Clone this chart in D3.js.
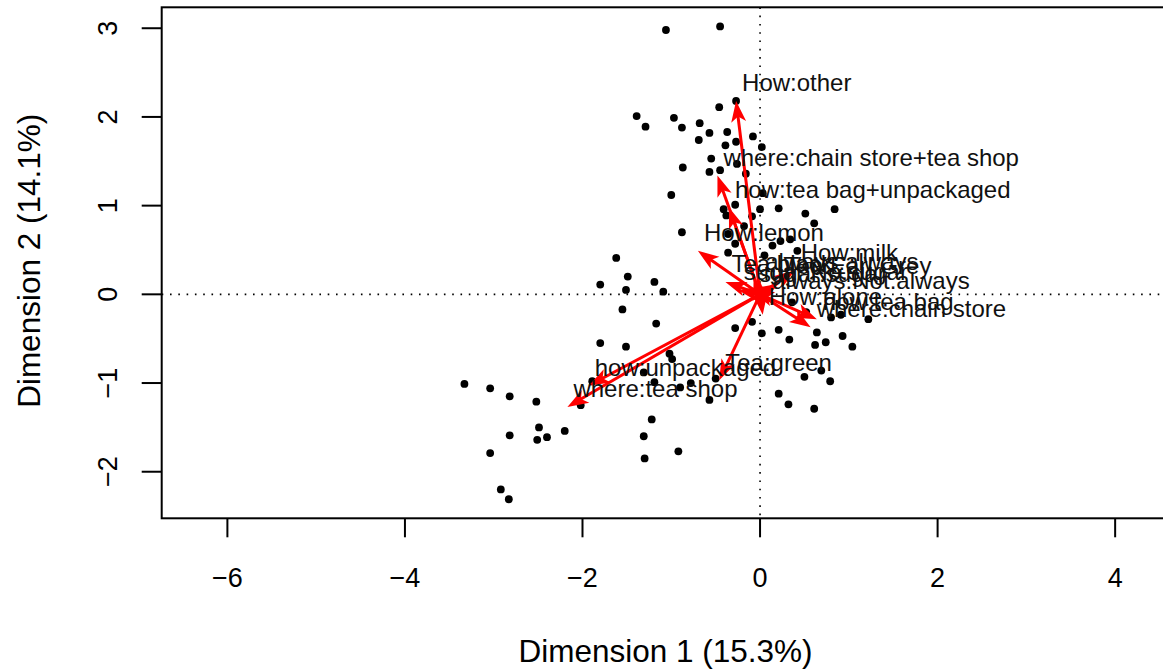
<!DOCTYPE html>
<html>
<head>
<meta charset="utf-8">
<script src="https://cdn.jsdelivr.net/npm/d3@7"></script>
<style>
  body { margin: 0; background: #fff; }
  text { font-family: "Liberation Sans", Arial, sans-serif; }
</style>
</head>
<body>
<script>
// individuals (dim 1, dim 2)
var indX = [-1.06,-0.45,-0.27,-0.46,-1.39,-1.29,-0.97,-0.88,-0.68,-0.57,-0.37,-0.69,-0.39,-0.27,-0.08,0.02,
  -0.55,-0.26,-0.87,-0.57,-0.45,-0.16,-1.00,0.03,-0.41,-0.28,0.00,0.21,0.51,0.84,-0.38,-0.09,-0.18,0.61,
  -0.88,-0.36,-0.28,0.14,0.23,0.34,-0.36,0.05,0.42,
  -1.62,-1.49,-1.80,-1.51,-1.19,-1.09,-1.55,-1.17,-1.80,-1.51,-1.02,-0.99,
  -3.33,-3.04,-2.82,-2.52,-1.89,-2.02,-1.31,-1.19,-0.90,-0.78,-0.50,-0.57,
  -2.49,-2.82,-2.51,-2.40,-2.20,-1.22,-1.31,-1.30,-0.92,-3.04,-2.92,-2.83,
  -0.28,-0.09,0.02,0.21,0.33,0.36,
  0.52,0.80,0.91,1.22,0.64,0.74,0.62,0.93,1.04,0.50,0.69,0.79,0.21,0.32,0.61];
var indY = [2.98,3.02,2.18,2.11,2.01,1.89,1.99,1.88,1.93,1.82,1.83,1.74,1.68,1.72,1.78,1.66,
  1.53,1.47,1.43,1.38,1.40,1.36,1.12,1.14,0.96,1.01,0.96,0.97,0.91,0.96,0.89,0.88,0.77,0.80,
  0.70,0.68,0.57,0.55,0.60,0.62,0.47,0.44,0.49,
  0.41,0.20,0.11,0.05,0.14,0.03,-0.17,-0.33,-0.55,-0.59,-0.67,-0.73,
  -1.01,-1.06,-1.15,-1.21,-0.98,-1.25,-0.88,-0.99,-1.05,-1.00,-0.95,-1.19,
  -1.50,-1.59,-1.64,-1.61,-1.54,-1.41,-1.60,-1.85,-1.77,-1.79,-2.20,-2.31,
  -0.38,-0.31,-0.44,-0.40,-0.51,-0.09,
  -0.20,-0.26,-0.23,-0.28,-0.43,-0.54,-0.57,-0.47,-0.59,-0.93,-0.86,-0.98,-1.12,-1.24,-1.29];

// category arrows
var catLabels = ["How:other","where:chain store+tea shop","how:tea bag+unpackaged","How:lemon",
  "how:unpackaged","where:tea shop","Tea:green","How:milk","Tea:Earl Grey","always:Not.always",
  "How:alone","how:tea bag","where:chain store","Tea:black","sugar:No.sugar","sugar:sugar","always:always"];
var catX = [-0.27,-0.48,-0.35,-0.70,-1.93,-2.17,-0.46,0.39,0.21,0.07,0.03,0.64,0.57,-0.39,-0.25,-0.08,-0.01];
var catY = [2.18,1.34,0.98,0.49,-1.03,-1.27,-0.97,0.27,0.12,-0.05,-0.23,-0.28,-0.37,0.14,0.05,0.03,0.17];

var xTicks = [-6,-4,-2,0,2,4];
var yTicks = [-2,-1,0,1,2,3];
var xTitle = "Dimension 1 (15.3%)";
var yTitle = "Dimension 2 (14.1%)";

var W = 1163, H = 672;
var pLeft = 161.7, pRight = 1169.3, pTop = 7.3, pBottom = 518.3;

var x = d3.scaleLinear().domain([-6.74, 4.61]).range([pLeft, pRight]);
var y = d3.scaleLinear().domain([-2.525, 3.236]).range([pBottom, pTop]);

var svg = d3.select("body").append("svg")
    .attr("width", W)
    .attr("height", H);

// dotted reference lines
svg.append("line")
    .attr("x1", pLeft).attr("x2", pRight)
    .attr("y1", y(0)).attr("y2", y(0))
    .attr("stroke", "#000").attr("stroke-width", 1.6)
    .attr("stroke-dasharray", "1.6,6.7");
svg.append("line")
    .attr("x1", x(0)).attr("x2", x(0))
    .attr("y1", pTop).attr("y2", pBottom)
    .attr("stroke", "#000").attr("stroke-width", 1.6)
    .attr("stroke-dasharray", "1.6,6.7");

// points
svg.selectAll("circle.ind")
    .data(d3.range(indX.length))
    .enter()
    .append("circle")
        .attr("class", "ind")
        .attr("cx", function(i) { return x(indX[i]); })
        .attr("cy", function(i) { return y(indY[i]); })
        .attr("r", 3.9)
        .attr("fill", "#000");

// arrows
var arrows = svg.append("g");
var L = 21, Wd = 7.5;
catLabels.forEach(function(lab, i) {
    var x0 = x(0), y0 = y(0), x1 = x(catX[i]), y1 = y(catY[i]);
    var ang = Math.atan2(y1 - y0, x1 - x0);
    var cos = Math.cos(ang), sin = Math.sin(ang);
    arrows.append("line")
        .attr("x1", x0).attr("y1", y0)
        .attr("x2", x1 - cos * L * 0.7).attr("y2", y1 - sin * L * 0.7)
        .attr("stroke", "#ff0000")
        .attr("stroke-width", 3);
    var pts = [[0, 0], [-L, Wd], [-L * 0.75, 0], [-L, -Wd]].map(function(p) {
        return [x1 + p[0] * cos - p[1] * sin, y1 + p[0] * sin + p[1] * cos];
    });
    arrows.append("polygon")
        .attr("points", pts.map(function(p) { return p.join(","); }).join(" "))
        .attr("fill", "#ff0000");
});

// labels
svg.selectAll("text.cat")
    .data(catLabels)
    .enter()
    .append("text")
        .attr("class", "cat")
        .attr("x", function(d, i) { return x(catX[i]) + 6; })
        .attr("y", function(d, i) { return y(catY[i]) - 16; })
        .attr("dominant-baseline", "middle")
        .style("font-size", "24px")
        .attr("fill", "#111")
        .text(function(d) { return d; });

// box
svg.append("rect")
    .attr("x", pLeft).attr("y", pTop)
    .attr("width", pRight - pLeft).attr("height", pBottom - pTop)
    .attr("fill", "none")
    .attr("stroke", "#000")
    .attr("stroke-width", 2);

// x axis
var gx = svg.append("g");
gx.selectAll("line")
    .data(xTicks).enter()
    .append("line")
        .attr("x1", function(d) { return x(d); })
        .attr("x2", function(d) { return x(d); })
        .attr("y1", pBottom).attr("y2", pBottom + 19)
        .attr("stroke", "#000").attr("stroke-width", 2);
gx.selectAll("text")
    .data(xTicks).enter()
    .append("text")
        .attr("x", function(d) { return x(d); })
        .attr("y", 580)
        .attr("text-anchor", "middle")
        .attr("dominant-baseline", "middle")
        .style("font-size", "27px")
        .text(function(d) { return d < 0 ? "\u2212" + Math.abs(d) : d; });

// y axis
var gy = svg.append("g");
gy.selectAll("line")
    .data(yTicks).enter()
    .append("line")
        .attr("y1", function(d) { return y(d); })
        .attr("y2", function(d) { return y(d); })
        .attr("x1", pLeft).attr("x2", pLeft - 20)
        .attr("stroke", "#000").attr("stroke-width", 2);
gy.selectAll("text")
    .data(yTicks).enter()
    .append("text")
        .attr("transform", function(d) { return "translate(110," + y(d) + ") rotate(-90)"; })
        .attr("text-anchor", "middle")
        .attr("dominant-baseline", "middle")
        .style("font-size", "27px")
        .text(function(d) { return d < 0 ? "\u2212" + Math.abs(d) : d; });

// axis titles
svg.append("text")
    .attr("x", (518 + 813) / 2)
    .attr("y", 654)
    .attr("text-anchor", "middle")
    .attr("dominant-baseline", "middle")
    .style("font-size", "31.5px")
    .text(xTitle);

svg.append("text")
    .attr("transform", "translate(32," + ((pTop + pBottom) / 2 - 2) + ") rotate(-90)")
    .attr("text-anchor", "middle")
    .attr("dominant-baseline", "middle")
    .style("font-size", "31.5px")
    .text(yTitle);
</script>
</body>
</html>
